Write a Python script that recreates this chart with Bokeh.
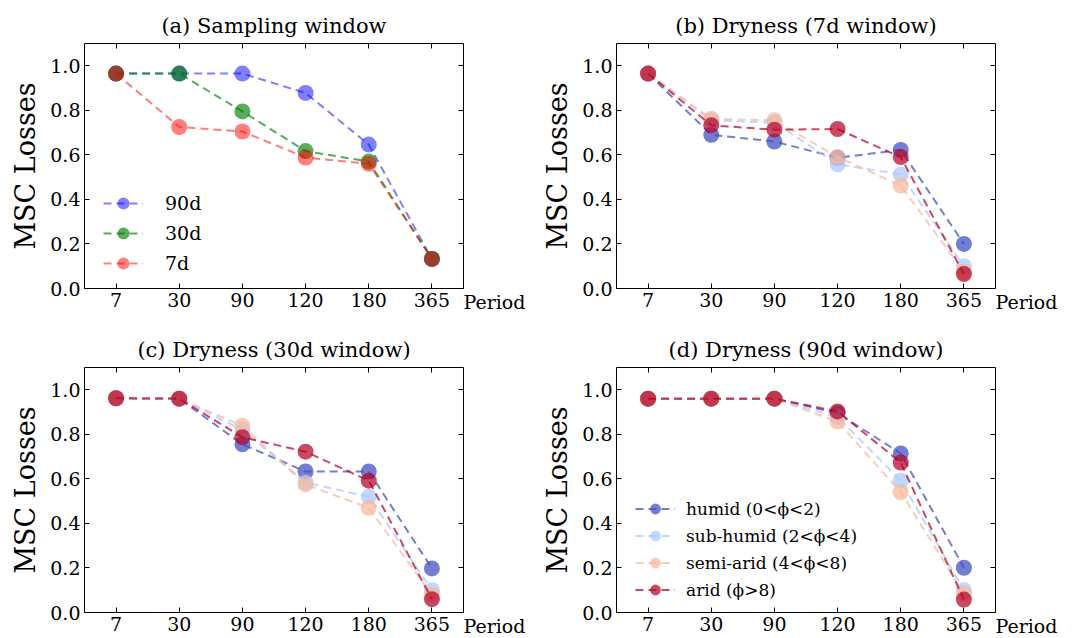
from bokeh.plotting import figure
from bokeh.models import (Range1d, FixedTicker, LinearAxis, Legend, LegendItem,
                          PrintfTickFormatter, CustomJSTickFormatter)
from bokeh.layouts import column, row
from bokeh.embed import file_html
from bokeh.resources import INLINE

# ---------------- data ----------------
periods = ["7", "30", "90", "120", "180", "365"]
y_ticks = [0.0, 0.2, 0.4, 0.6, 0.8, 1.0]
x_title = "Period"
y_title = "MSC Losses"

# (a) Sampling window
a_90d = [0.965, 0.965, 0.965, 0.878, 0.646, 0.133]
a_30d = [0.965, 0.965, 0.795, 0.617, 0.570, 0.133]
a_7d = [0.965, 0.725, 0.705, 0.588, 0.560, 0.133]

# (b) Dryness (7d window)
b_humid = [0.965, 0.690, 0.660, 0.587, 0.622, 0.200]
b_subhumid = [0.965, 0.755, 0.745, 0.558, 0.512, 0.100]
b_semiarid = [0.965, 0.762, 0.755, 0.590, 0.462, 0.075]
b_arid = [0.965, 0.733, 0.713, 0.716, 0.590, 0.065]

# (c) Dryness (30d window)
c_humid = [0.962, 0.960, 0.755, 0.633, 0.633, 0.198]
c_subhumid = [0.962, 0.960, 0.820, 0.583, 0.520, 0.100]
c_semiarid = [0.962, 0.960, 0.838, 0.575, 0.470, 0.080]
c_arid = [0.962, 0.960, 0.787, 0.722, 0.592, 0.060]

# (d) Dryness (90d window)
d_humid = [0.960, 0.960, 0.960, 0.895, 0.714, 0.201]
d_subhumid = [0.960, 0.960, 0.960, 0.877, 0.593, 0.100]
d_semiarid = [0.960, 0.960, 0.960, 0.857, 0.540, 0.085]
d_arid = [0.960, 0.960, 0.960, 0.903, 0.673, 0.058]

window_labels = ["90d", "30d", "7d"]
window_colors = ["#0000ff", "#008000", "#ff0000"]
window_alphas = [0.5, 0.65, 0.5]

dry_labels = ["humid (0<\u03d5<2)", "sub-humid (2<\u03d5<4)",
              "semi-arid (4<\u03d5<8)", "arid (\u03d5>8)"]
dry_colors = ["#3b4cc0", "#aac7fd", "#f7b89c", "#b40426"]
dry_alpha = 0.72

FONT = "DejaVu Serif"
xs = list(range(len(periods)))
FRAME_W, FRAME_H = 379, 245


def style_axis(ax, standoff=4):
    ax.axis_line_color = None
    ax.major_tick_in = 5
    ax.major_tick_out = 0
    ax.major_tick_line_color = "black"
    ax.minor_tick_line_color = None
    ax.major_label_text_font = FONT
    ax.major_label_text_color = "black"
    ax.major_label_text_font_size = "19px"
    ax.major_label_standoff = standoff


def make_fig(title, left_col, top_row):
    p = figure(frame_width=FRAME_W, frame_height=FRAME_H,
               x_range=Range1d(-0.5, len(periods) - 0.5),
               y_range=Range1d(0, 1.1),
               output_backend="svg", toolbar_location=None,
               min_border_left=84 if left_col else 76,
               min_border_right=76 if left_col else 62,
               min_border_top=43 if top_row else 35,
               min_border_bottom=42 if top_row else 26)
    p.grid.visible = False
    p.outline_line_color = "black"
    p.outline_line_width = 1
    p.outline_line_alpha = 1
    p.background_fill_color = "white"
    p.border_fill_color = "white"

    p.title.text = title
    p.title.text_font = FONT
    p.title.text_font_size = "21px"
    p.title.text_font_style = "normal"
    p.title.text_color = "black"
    p.title.align = "center"
    p.title.standoff = 11

    p.xaxis.ticker = FixedTicker(ticks=xs, minor_ticks=[])
    p.xaxis.major_label_overrides = {i: lab for i, lab in enumerate(periods)}
    p.yaxis.ticker = FixedTicker(ticks=y_ticks, minor_ticks=[])
    p.yaxis.formatter = PrintfTickFormatter(format="%.1f")
    for ax in p.xaxis + p.yaxis:
        style_axis(ax)
    p.yaxis.axis_label = y_title
    p.yaxis.axis_label_text_font = FONT
    p.yaxis.axis_label_text_font_size = "27px"
    p.yaxis.axis_label_text_font_style = "normal"
    p.yaxis.axis_label_text_color = "black"
    p.yaxis.axis_label_standoff = 6

    # mirrored inward ticks on top and right (no tick texts there)
    top = LinearAxis(ticker=FixedTicker(ticks=xs, minor_ticks=[]),
                     formatter=CustomJSTickFormatter(code="return ''"))
    style_axis(top, standoff=0)
    p.add_layout(top, "above")
    # right axis: only text is the x-axis name, beside the lower right corner
    right = LinearAxis(ticker=FixedTicker(ticks=y_ticks, minor_ticks=[]),
                       formatter=CustomJSTickFormatter(
                           args=dict(name=x_title),
                           code="return tick == 0 ? '\\n' + name : ''"))
    style_axis(right, standoff=0)
    p.add_layout(right, "right")
    return p


def add_series(p, series, labels, colors, alphas):
    items = []
    for ys, lab, col, al in zip(series, labels, colors, alphas):
        ln = p.line(xs, ys, line_color=col, line_alpha=al, line_width=2,
                    line_dash="8 5")
        sc = p.scatter(xs, ys, size=16, fill_color=col, fill_alpha=al,
                       line_color=col, line_alpha=0)
        items.append(LegendItem(label=lab, renderers=[ln, sc]))
    return items


def add_legend(p, items, font_size, gh, loc, standoff):
    leg = Legend(items=items, location=loc)
    leg.label_text_font = FONT
    leg.label_text_font_size = font_size
    leg.label_text_color = "black"
    leg.border_line_alpha = 0
    leg.background_fill_alpha = 0
    leg.glyph_width = 40
    leg.glyph_height = gh
    leg.label_height = gh
    leg.spacing = 0
    leg.padding = 0
    leg.margin = 0
    leg.label_standoff = standoff
    p.add_layout(leg)


pa = make_fig("(a) Sampling window", True, True)
items_a = add_series(pa, [a_90d, a_30d, a_7d], window_labels,
                     window_colors, window_alphas)
add_legend(pa, items_a, "19px", 30, (19, 10), 22)

pb = make_fig("(b) Dryness (7d window)", False, True)
add_series(pb, [b_humid, b_subhumid, b_semiarid, b_arid], dry_labels,
           dry_colors, [dry_alpha] * 4)

pc = make_fig("(c) Dryness (30d window)", True, False)
add_series(pc, [c_humid, c_subhumid, c_semiarid, c_arid], dry_labels,
           dry_colors, [dry_alpha] * 4)

pd_ = make_fig("(d) Dryness (90d window)", False, False)
items_d = add_series(pd_, [d_humid, d_subhumid, d_semiarid, d_arid],
                     dry_labels, dry_colors, [dry_alpha] * 4)
add_legend(pd_, items_d, "17px", 27, (19, 9), 11)

layout = column(row(pa, pb), row(pc, pd_))
open("out.html", "w").write(file_html(layout, INLINE))
